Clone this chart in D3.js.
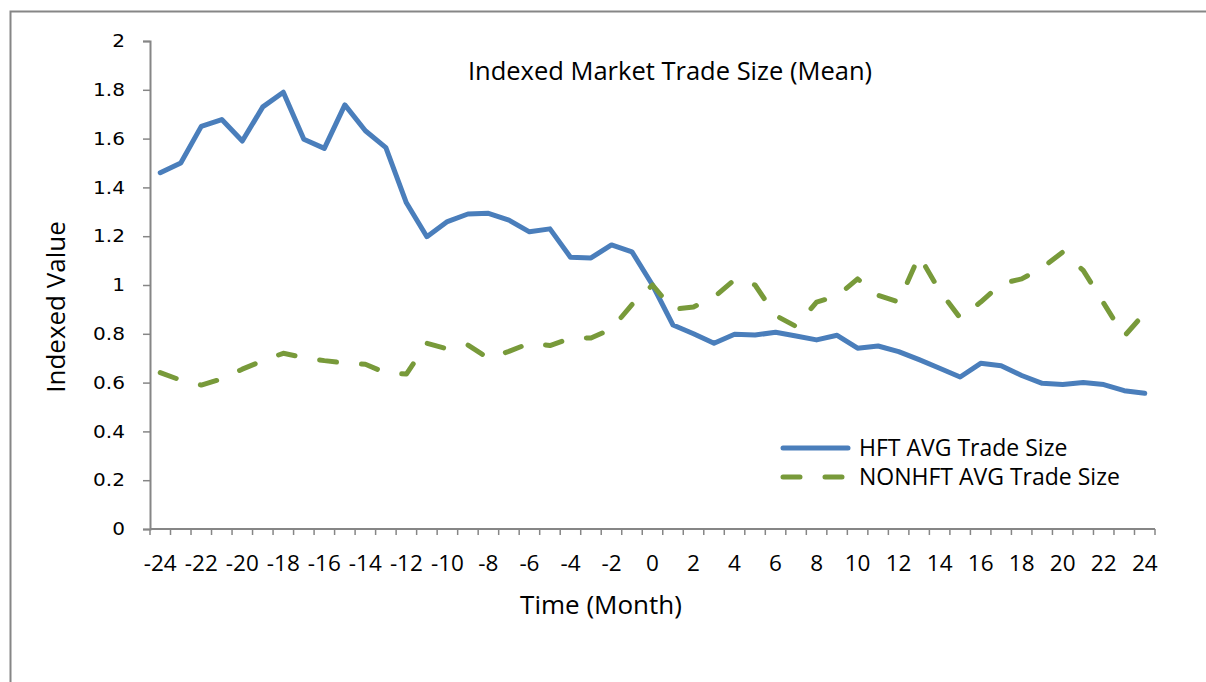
<!DOCTYPE html>
<html>
<head>
<meta charset="utf-8">
<script src="https://cdn.jsdelivr.net/npm/d3@7"></script>
<style>
  body { margin: 0; background: #fff; }
  svg text { font-family: "Open Sans", Lato, sans-serif; fill: #000; }
</style>
</head>
<body>
<div id="chart"></div>
<script>
// months relative to event
const months = d3.range(-24, 25);
const hftValues = [1.46, 1.5, 1.65, 1.678, 1.59, 1.73, 1.79, 1.597, 1.56, 1.738, 1.632, 1.563, 1.337,
  1.198, 1.26, 1.291, 1.294, 1.266, 1.218, 1.23, 1.114, 1.111, 1.164, 1.136, 1.0,
  0.836, 0.8, 0.761, 0.798, 0.795, 0.806, 0.791, 0.775, 0.794, 0.741, 0.75, 0.727, 0.694, 0.659,
  0.623, 0.679, 0.669, 0.629, 0.597, 0.592, 0.6, 0.592, 0.567, 0.556];
const nonHftValues = [0.641, 0.61, 0.59, 0.615, 0.655, 0.69, 0.72, 0.703, 0.69, 0.68, 0.675, 0.64, 0.635,
  0.761, 0.738, 0.754, 0.7, 0.728, 0.761, 0.752, 0.781, 0.783, 0.82, 0.92, 1.0,
  0.9, 0.91, 0.95, 1.022, 1.0, 0.875, 0.83, 0.93, 0.955, 1.025, 0.958, 0.93, 1.12, 0.976,
  0.865, 0.93, 1.005, 1.025, 1.07, 1.135, 1.06, 0.925, 0.79, 0.885];
const yTicks = [0, 0.2, 0.4, 0.6, 0.8, 1, 1.2, 1.4, 1.6, 1.8, 2];
const seriesNames = ["HFT AVG Trade Size", "NONHFT AVG Trade Size"];

const size = {width: 1206, height: 682};
const plot = {left: 150, right: 1155, top: 41, bottom: 529};
const colors = ["#4a7ebb", "#789a3a"];
const axisColor = "#868686";

const svg = d3.select("#chart").append("svg")
  .attr("width", size.width)
  .attr("height", size.height);

// outer chart frame
svg.append("rect")
  .attr("x", 10.5).attr("y", 11.5)
  .attr("width", 1220).attr("height", 700)
  .attr("fill", "none").attr("stroke", axisColor).attr("stroke-width", 2);

const x = d3.scaleBand().domain(months).range([plot.left, plot.right]);
const y = d3.scaleLinear().domain([0, 2]).range([plot.bottom, plot.top]);

// y axis (labels drawn separately so the wide font sticks)
const yAxis = svg.append("g")
  .attr("transform", `translate(${plot.left},0)`)
  .call(d3.axisLeft(y).tickValues(yTicks).tickSize(7).tickFormat(""));
yAxis.select(".domain").attr("stroke", axisColor).attr("stroke-width", 2);
yAxis.selectAll(".tick line").attr("stroke", axisColor).attr("stroke-width", 1.5);

svg.append("g").selectAll("text").data(yTicks).enter().append("text")
  .attr("transform", d => `translate(125,${y(d)}) scale(1.18,1)`)
  .attr("dy", "0.36em")
  .attr("text-anchor", "end")
  .style("font-family", "'DejaVu Sans', sans-serif")
  .style("font-size", "17px")
  .text(d => d);

// x axis: ticks between categories, labels every other month
const bounds = months.map(m => x(m)).concat([plot.right]);
const xAxis = svg.append("g");
xAxis.append("line")
  .attr("x1", plot.left).attr("x2", plot.right)
  .attr("y1", plot.bottom).attr("y2", plot.bottom)
  .attr("stroke", axisColor).attr("stroke-width", 2);
xAxis.selectAll(".xt").data(bounds).enter().append("line")
  .attr("x1", d => d).attr("x2", d => d)
  .attr("y1", plot.bottom).attr("y2", plot.bottom + 6)
  .attr("stroke", axisColor).attr("stroke-width", 1.5);
xAxis.selectAll(".xl").data(months.filter(m => m % 2 === 0)).enter().append("text")
  .attr("x", d => x(d) + x.bandwidth() / 2)
  .attr("y", 571)
  .attr("text-anchor", "middle")
  .attr("font-size", 22.5)
  .text(d => d);

// lines
const line = d3.line()
  .x((d, i) => x(months[i]) + x.bandwidth() / 2)
  .y(d => y(d));

svg.append("path")
  .datum(hftValues)
  .attr("d", line)
  .attr("fill", "none")
  .attr("stroke", colors[0])
  .attr("stroke-width", 5)
  .attr("stroke-linejoin", "round")
  .attr("stroke-linecap", "round");

svg.append("path")
  .datum(nonHftValues)
  .attr("d", line)
  .attr("fill", "none")
  .attr("stroke", colors[1])
  .attr("stroke-width", 5)
  .attr("stroke-dasharray", "17,25")
  .attr("stroke-linejoin", "round")
  .attr("stroke-linecap", "round");

// titles
svg.append("text")
  .attr("x", 670).attr("y", 80)
  .attr("text-anchor", "middle")
  .attr("font-size", 25.5)
  .text("Indexed Market Trade Size (Mean)");

svg.append("text")
  .attr("x", 601).attr("y", 614)
  .attr("text-anchor", "middle")
  .attr("font-size", 26)
  .text("Time (Month)");

svg.append("text")
  .attr("transform", "translate(65,307) rotate(-90)")
  .attr("text-anchor", "middle")
  .attr("font-size", 26)
  .text("Indexed Value");

// legend
const legend = svg.append("g");
seriesNames.forEach((name, i) => {
  const ly = 448 + i * 29;
  legend.append("line")
    .attr("x1", 783).attr("x2", 848)
    .attr("y1", ly).attr("y2", ly)
    .attr("stroke", colors[i])
    .attr("stroke-width", 5)
    .attr("stroke-linecap", "round")
    .attr("stroke-dasharray", i === 1 ? "17,25" : null);
  legend.append("text")
    .attr("x", 859).attr("y", ly + 8)
    .attr("font-size", 23)
    .text(name);
});
</script>
</body>
</html>
